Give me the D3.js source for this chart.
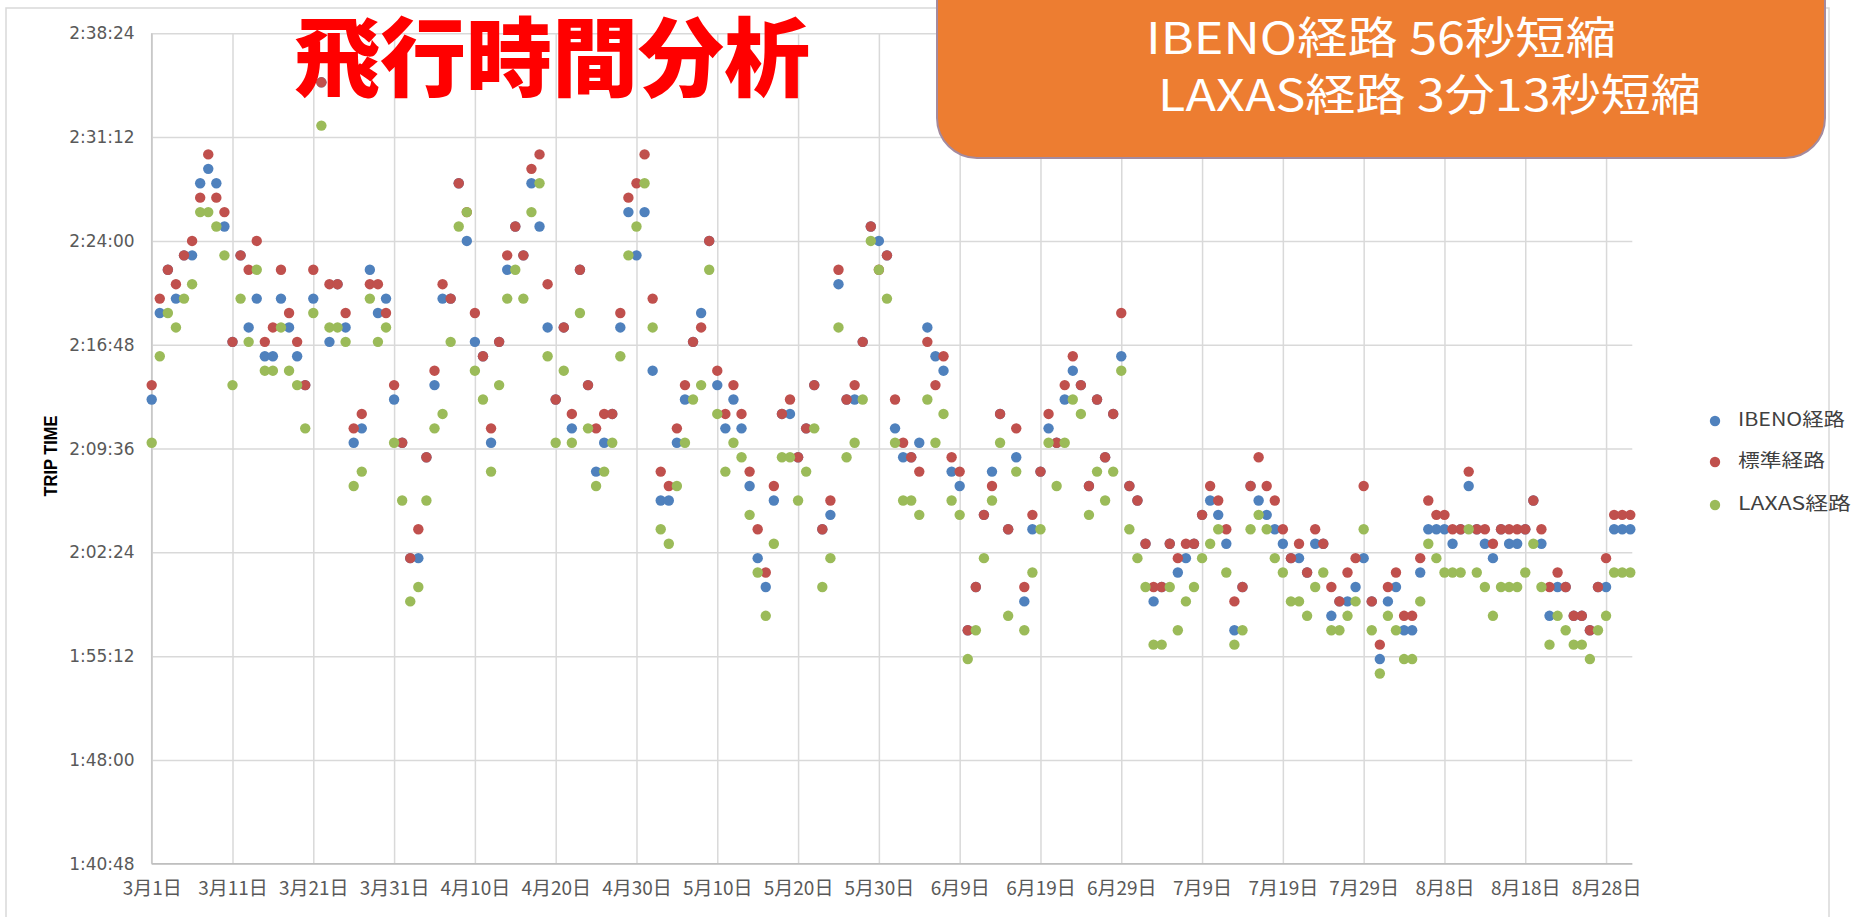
<!DOCTYPE html>
<html>
<head>
<meta charset="utf-8">
<script src="https://cdn.jsdelivr.net/npm/d3@7"></script>
<style>
  html, body { margin: 0; padding: 0; background: #fff; overflow: hidden; }
</style>
</head>
<body>
<div id="container"></div>
<script>

// trip times in minutes, one value per day from 3/1 to 8/31
const ibeno = [
  133,139,142,140,143,143,148,149,148,145, 137,143,138,140,136,136,140,138,136,134,
  140,155,137,141,138,130,131,142,139,140, 133,130,122,122,129,134,140,140,148,144,
  137,136,130,137,142,145,143,148,145,138, 133,138,131,142,134,128,130,132,138,146,
  143,146,135,126,126,130,133,137,139,144, 134,131,133,131,127,122,120,126,132,132,
  129,131,134,124,125,141,133,133,137,145, 144,143,131,129,129,130,138,136,135,128,
  127,117,120,125,128,132,124,129,119,124, 128,131,130,133,135,134,127,133,129,132,
  136,127,126,123,119,120,123,121,122,123, 125,126,125,123,117,120,127,126,125,124,
  123,122,122,121,123,123,118,119,119,120, 122,119,115,119,120,117,117,121,124,124,
  124,123,124,127,124,123,122,124,123,123, 124,126,123,118,120,120,118,118,117,120,
  120,124,124,124
];
const standard = [
  134,140,142,141,143,144,147,150,147,146, 137,143,142,144,137,138,142,139,137,134,
  142,155,141,141,139,131,132,141,141,139, 134,130,122,124,129,135,141,140,148,146,
  139,136,131,137,143,145,143,149,150,141, 133,138,132,142,134,131,132,132,139,147,
  148,150,140,128,127,131,134,137,138,144, 135,132,134,132,128,124,121,127,132,133,
  129,131,134,124,126,142,133,134,137,145, 142,143,133,130,129,128,137,134,136,129,
  128,117,120,125,127,132,124,131,120,125, 128,132,130,134,136,134,127,133,129,132,
  139,127,126,123,120,120,123,122,123,123, 125,127,126,124,119,120,127,129,127,126,
  124,122,123,121,124,123,120,119,121,122, 127,119,116,120,121,118,118,122,126,125,
  125,124,124,128,124,124,123,124,124,124, 124,126,124,120,121,120,118,118,117,120,
  122,125,125,125
];
const laxas = [
  130,136,139,138,140,141,146,146,145,143, 134,140,137,142,135,135,138,135,134,131,
  139,152,138,138,137,127,128,140,137,138, 130,126,119,120,126,131,132,137,145,146,
  135,133,128,134,140,142,140,146,148,136, 130,135,130,139,131,127,128,130,136,143,
  145,148,138,124,123,127,130,133,134,142, 132,128,130,129,125,121,118,123,129,129,
  126,128,131,120,122,138,129,130,133,144, 142,140,130,126,126,125,133,130,132,126,
  125,115,117,122,126,130,118,128,117,121, 124,130,127,130,133,132,125,128,126,128,
  135,124,122,120,116,116,120,117,119,120, 122,123,124,121,116,117,124,125,124,122,
  121,119,119,118,120,121,117,117,118,119, 124,117,114,118,117,115,115,119,123,122,
  121,121,121,124,121,120,118,120,120,120, 121,123,120,116,118,117,116,116,115,117,
  118,121,121,121
];

const seriesNames = ["IBENO経路", "標準経路", "LAXAS経路"];
const seriesColors = ["#4f81bd", "#c0504d", "#9bbb59"];
const yTickLabels = ["1:40:48", "1:48:00", "1:55:12", "2:02:24", "2:09:36",
                     "2:16:48", "2:24:00", "2:31:12", "2:38:24"];
const xTickLabels = ["3月1日", "3月11日", "3月21日", "3月31日", "4月10日", "4月20日",
                     "4月30日", "5月10日", "5月20日", "5月30日", "6月9日", "6月19日",
                     "6月29日", "7月9日", "7月19日", "7月29日", "8月8日", "8月18日", "8月28日"];
const boxLines = ["IBENO経路 56秒短縮", "LAXAS経路 3分13秒短縮"];
const titleText = "飛行時間分析";

function toMinutes(s) {
    const [h, m, sec] = s.split(":").map(Number);
    return h * 60 + m + sec / 60;
}

const width = 1863, height = 917;
const plotLeft = 151.7, plotRight = 1630.3, plotTop = 33.3, plotBottom = 863.8;

const days = d3.utcDay.range(new Date(Date.UTC(2019, 2, 1)), new Date(Date.UTC(2019, 2, 1 + ibeno.length)));
const tickDays = days.filter((d, i) => i % 10 === 0);

const svg = d3.select("#container")
    .append("svg")
    .attr("width", width)
    .attr("height", height);

// chart frame
svg.append("rect")
    .attr("x", 6).attr("y", 8)
    .attr("width", 1823).attr("height", 920)
    .attr("fill", "none")
    .attr("stroke", "#d9d9d9")
    .attr("stroke-width", 1.5);

const x = d3.scaleUtc()
    .domain([days[0], days[days.length - 1]])
    .range([plotLeft, plotRight]);

const y = d3.scaleLinear()
    .domain([toMinutes(yTickLabels[0]), toMinutes(yTickLabels[yTickLabels.length - 1])])
    .range([plotBottom, plotTop]);

// horizontal gridlines + y labels
const yAxis = svg.append("g")
    .attr("transform", `translate(${plotLeft},0)`)
    .call(d3.axisLeft(y)
        .tickValues(yTickLabels.map(toMinutes))
        .tickFormat((d, i) => yTickLabels[i])
        .tickSize(-(plotRight - plotLeft + 2))
        .tickPadding(17));
yAxis.select(".domain").remove();
yAxis.selectAll(".tick line").attr("stroke", "#d9d9d9").attr("stroke-width", 1.5);
yAxis.selectAll(".tick text")
    .attr("fill", "#595959")
    .style("font-family", "'DejaVu Sans', Verdana, sans-serif")
    .style("font-size", "17px");

// vertical gridlines + x labels
const xAxis = svg.append("g")
    .attr("transform", `translate(0,${plotBottom})`)
    .call(d3.axisBottom(x)
        .tickValues(tickDays)
        .tickFormat((d, i) => xTickLabels[i])
        .tickSizeInner(-(plotBottom - plotTop))
        .tickSizeOuter(0)
        .tickPadding(14));
xAxis.select(".domain").remove();
xAxis.selectAll(".tick line").attr("stroke", "#d9d9d9").attr("stroke-width", 1.5);
xAxis.selectAll(".tick text")
    .attr("fill", "#595959")
    .attr("dy", "0.9em")
    .style("font-family", "'Noto Sans CJK JP', sans-serif")
    .style("font-size", "19px");

// axis lines
svg.append("line")
    .attr("x1", plotLeft).attr("x2", plotLeft)
    .attr("y1", plotTop).attr("y2", plotBottom)
    .attr("stroke", "#c8c8c8").attr("stroke-width", 1.5);
svg.append("line")
    .attr("x1", plotLeft).attr("x2", plotRight + 2)
    .attr("y1", plotBottom).attr("y2", plotBottom)
    .attr("stroke", "#bfbfbf").attr("stroke-width", 1.5);

// axis title
svg.append("text")
    .attr("transform", "translate(52,456) rotate(-90)")
    .attr("text-anchor", "middle")
    .attr("dominant-baseline", "middle")
    .attr("fill", "#000")
    .attr("textLength", 81)
    .attr("lengthAdjust", "spacingAndGlyphs")
    .style("font-family", "'Liberation Sans Narrow', 'Liberation Sans', Arial, sans-serif")
    .style("font-weight", "bold")
    .style("font-size", "18px")
    .text("TRIP TIME");

// points: blue, then red, then green on top
const allSeries = [ibeno, standard, laxas];
allSeries.forEach((values, k) => {
    svg.append("g")
        .selectAll("circle")
        .data(values)
        .join("circle")
        .attr("cx", (d, i) => x(days[i]))
        .attr("cy", d => y(d))
        .attr("r", 5.2)
        .attr("fill", seriesColors[k]);
});

// legend
const legendY = [421, 462, 505];
const legendWidths = [107, 87, 113];
const legend = svg.append("g");
seriesNames.forEach((name, k) => {
    legend.append("circle")
        .attr("cx", 1715).attr("cy", legendY[k])
        .attr("r", 5.2)
        .attr("fill", seriesColors[k]);
    legend.append("text")
        .attr("x", 1738).attr("y", legendY[k])
        .attr("dominant-baseline", "middle")
        .attr("fill", "#404040")
        .attr("textLength", legendWidths[k])
        .attr("lengthAdjust", "spacingAndGlyphs")
        .style("font-family", "'Noto Sans CJK JP', sans-serif")
        .style("font-size", "18px")
        .text(name);
});

// title
svg.append("text")
    .attr("x", 552).attr("y", 90)
    .attr("text-anchor", "middle")
    .attr("fill", "#ff0000")
    .style("font-family", "'Noto Sans CJK JP', sans-serif")
    .style("font-weight", 900)
    .style("font-size", "86px")
    .text(titleText);

// orange note box
svg.append("rect")
    .attr("x", 937).attr("y", -60)
    .attr("width", 888).attr("height", 218)
    .attr("rx", 40)
    .attr("fill", "#ed7d31")
    .attr("stroke", "#a48a9e")
    .attr("stroke-width", 2);

const boxX = [1146, 1158];
const boxY = [54, 111];
const boxW = [470, 543];
boxLines.forEach((t, i) => {
    svg.append("text")
        .attr("x", boxX[i]).attr("y", boxY[i])
        .attr("fill", "#fff")
        .attr("textLength", boxW[i])
        .attr("lengthAdjust", "spacingAndGlyphs")
        .style("font-family", "'Noto Sans CJK JP', sans-serif")
        .style("font-size", "44px")
        .text(t);
});

</script>
</body>
</html>
